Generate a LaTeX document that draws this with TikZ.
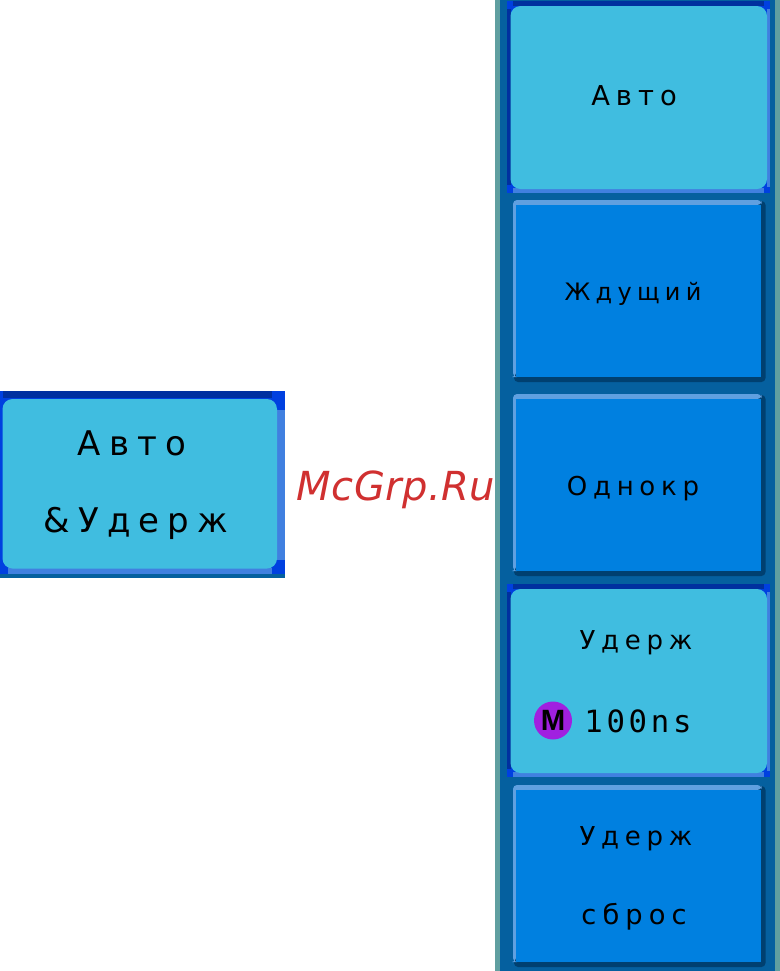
\documentclass[tikz,border=0pt]{standalone}
\usepackage{fontspec}
\newfontfamily\btnfont[LetterSpace=22]{DejaVu Sans}
\newfontfamily\bigfont[LetterSpace=24]{DejaVu Sans}
\newfontfamily\valfont[LetterSpace=12]{DejaVu Sans Mono}
\newfontfamily\wmfont[LetterSpace=1.2]{DejaVu Sans}
\newfontfamily\badgefont{Liberation Sans}
\definecolor{panelblue}{HTML}{05609F}
\definecolor{paneledge}{HTML}{609FA0}
\definecolor{sellight}{HTML}{40BDE0}
\definecolor{selnavy}{HTML}{00309F}
\definecolor{selbright}{HTML}{0040E0}
\definecolor{selside}{HTML}{4080E0}
\definecolor{btnblue}{HTML}{0080E0}
\definecolor{btnhi}{HTML}{60A0E0}
\definecolor{btnlo}{HTML}{004070}
\definecolor{wmred}{HTML}{D03030}
\definecolor{mpurple}{HTML}{A020E0}
\tikzset{
  btnlabel/.style={font=\fontsize{19.5}{19.5}\selectfont\btnfont,text=black,inner sep=0pt,anchor=base},
  widelabel/.style={font=\fontsize{18}{18}\selectfont\btnfont,text=black,inner sep=0pt,anchor=base},
  tightlabel/.style={font=\fontsize{20.5}{20.5}\selectfont\btnfont,text=black,inner sep=0pt,anchor=base},
  biglabel/.style={font=\fontsize{25.5}{25.5}\selectfont\bigfont,text=black,inner sep=0pt,anchor=base},
  vallabel/.style={font=\fontsize{23}{23}\selectfont\valfont,text=black,inner sep=0pt,anchor=base},
  wmlabel/.style={font=\fontsize{30}{30}\selectfont\wmfont\itshape,text=wmred,inner sep=0pt,anchor=base},
  mbadge/.style={circle,fill=mpurple,minimum size=28.5pt,inner sep=0pt,text=black,font=\fontsize{22}{22}\selectfont\badgefont\bfseries},
}
% selected button: x1,y1 outer; x2,y2 outer
\newcommand{\selbtn}[4]{%
  \fill[selbright] (#1,#2) rectangle (#3,#4);
  \fill[selnavy] (#1+6,#2) rectangle (#3-6,#2+5);
  \fill[selnavy] (#1,#2+8) rectangle (#1+4,#4-8);
  \fill[selside] (#3-3,#2+8) rectangle (#3,#4-6);
  \fill[selside] (#1+6,#4-5) rectangle (#3-6,#4);
  \fill[sellight,rounded corners=7.5pt] (#1+4,#2+5) rectangle (#3-3,#4-4);
}
% raised button
\newcommand{\rawbtn}[4]{%
  \fill[btnlo,rounded corners=3pt] (#1+1,#2+1) rectangle (#3,#4);
  \fill[btnhi,rounded corners=3pt] (#1,#4-5) -- (#1,#2) -- (#3-4,#2) -- (#3-4,#2+5) -- (#1+3,#2+5) -- (#1+3,#4-5) -- cycle;
  \fill[btnblue] (#1+3,#2+5) rectangle (#3-5,#4-5);
}
\begin{document}
\begin{tikzpicture}[x=0.75pt,y=-0.75pt]
\useasboundingbox (0,0) rectangle (780,971);
\fill[white] (0,0) rectangle (780,971);
% panel
\fill[paneledge] (495,0) rectangle (780,971);
\fill[panelblue] (499.5,0) rectangle (775,971);
\selbtn{506.5}{1}{770}{193}
\rawbtn{513}{200}{765.5}{382}
\rawbtn{513}{394}{765.5}{576}
\selbtn{506.5}{584}{770}{777}
\rawbtn{513}{785}{765.5}{967}
% left button
\fill[panelblue] (0,574) rectangle (285,578);
\fill[selbright] (0,391) rectangle (285,574);
\fill[selnavy] (3,391) rectangle (272,398);
\fill[selside] (277,410) rectangle (285,560);
\fill[selside] (8,568) rectangle (272,574);
\fill[sellight,rounded corners=7.5pt] (2.5,399) rectangle (277,568.5);
% texts
\node[tightlabel] (t1) at (634,105) {Авто};
\node[widelabel] (t2) at (633,300) {Ждущий};
\node[btnlabel] (t3) at (633,495) {Однокр};
\node[btnlabel] (t4) at (636,649) {Удерж};
\node[mbadge] (m) at (553,720.5) {M};
\node[vallabel] (t5) at (638,732) {100ns};
\node[btnlabel] (t6) at (636,845) {Удерж};
\node[tightlabel] (t7) at (634,924) {сброс};
\node[biglabel] (l1) at (132,455) {Авто};
\node[biglabel] (l2) at (136,532) {\&Удерж};
\node[wmlabel] (wm) at (396,500) {McGrp.Ru};
\end{tikzpicture}
\end{document}
